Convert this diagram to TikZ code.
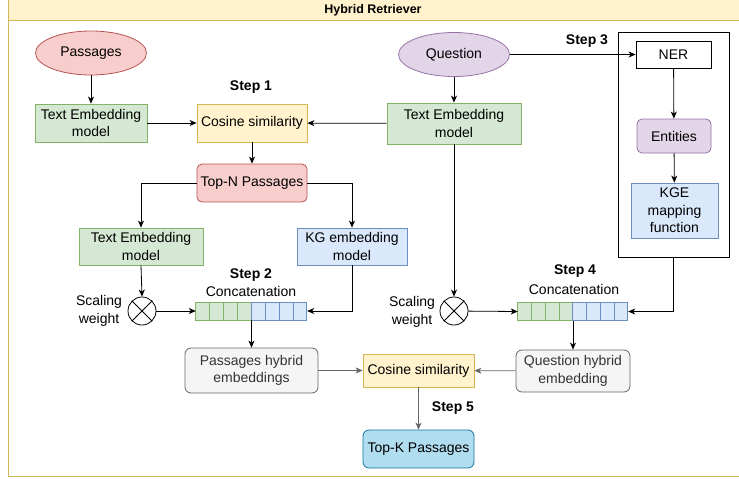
\documentclass[tikz,border=0pt]{standalone}
\usepackage{fontspec}
\setmainfont{Liberation Sans}
\usetikzlibrary{arrows.meta,shapes.geometric,calc}

\definecolor{yelfill}{HTML}{FFF2CC}
\definecolor{yelline}{HTML}{D6B656}
\definecolor{grnfill}{HTML}{D5E8D4}
\definecolor{grnline}{HTML}{82B366}
\definecolor{redfill}{HTML}{F8CECC}
\definecolor{redline}{HTML}{B85450}
\definecolor{blufill}{HTML}{DAE8FC}
\definecolor{bluline}{HTML}{6C8EBF}
\definecolor{purfill}{HTML}{E1D5E7}
\definecolor{purline}{HTML}{9673A6}
\definecolor{gryfill}{HTML}{F5F5F5}
\definecolor{gryline}{HTML}{666666}
\definecolor{grytext}{HTML}{333333}
\definecolor{cyafill}{HTML}{B1DDF0}
\definecolor{cyaline}{HTML}{10739E}

\newcommand{\txtsz}{\fontsize{14}{17.5}\selectfont}

\tikzset{
  box/.style={draw, inner sep=0pt, align=center, font=\txtsz, line width=0.8pt},
  greenbox/.style={box, fill=grnfill, draw=grnline},
  yellowbox/.style={box, fill=yelfill, draw=yelline},
  redbox/.style={box, fill=redfill, draw=redline, rounded corners=5pt},
  bluebox/.style={box, fill=blufill, draw=bluline},
  purplebox/.style={box, fill=purfill, draw=purline, rounded corners=5pt},
  graybox/.style={box, fill=gryfill, draw=gryline, text=grytext, rounded corners=6pt},
  cyanbox/.style={box, fill=cyafill, draw=cyaline, rounded corners=6pt},
  oval/.style={ellipse, draw, inner sep=0pt, font=\txtsz, line width=0.8pt},
  steplbl/.style={font=\txtsz\bfseries, inner sep=0pt},
  plainlbl/.style={font=\txtsz, inner sep=0pt, align=center},
  mult/.style={circle, draw, line width=0.8pt, minimum size=28pt, inner sep=0pt},
  conn/.style={draw=black, line width=0.8pt, -{Stealth[length=7pt,width=6pt,inset=2pt]}},
  gconn/.style={conn, draw=gryline},
  cellg/.style={draw=grnline, fill=grnfill, line width=0.8pt},
  cellb/.style={draw=bluline, fill=blufill, line width=0.8pt},
}

\begin{document}
\begin{tikzpicture}[x=1pt, y=-1pt]
\path[use as bounding box] (0,0) rectangle (739,479);

% container with title bar
\draw[draw=yelline, line width=1pt] (8,0) rectangle (745,476);
\draw[draw=yelline, fill=yelfill, line width=1pt] (8,-2) rectangle (745,20);
\node[font=\fontsize{12.5}{14}\selectfont\bfseries, inner sep=0pt] (title) at (373,10) {Hybrid Retriever};

% inputs
\node[oval, fill=redfill, draw=redline, minimum width=111pt, minimum height=44pt] (pas) at (91,53) {Passages};
\node[oval, fill=purfill, draw=purline, minimum width=111pt, minimum height=44pt] (que) at (454,54.5) {Question};

% step 1
\node[greenbox, minimum width=112pt, minimum height=38pt] (tem1) at (91,123) {Text Embedding\\model};
\node[yellowbox, minimum width=110pt, minimum height=38pt] (cos1) at (252,123) {Cosine similarity};
\node[greenbox, minimum width=134pt, minimum height=41pt] (tem3) at (454,123.5) {Text Embedding\\model};
\node[steplbl] (s1) at (251,87) {Step 1};
\node[redbox, minimum width=110pt, minimum height=38pt] (topn) at (252,183) {Top-N Passages};

% passage branch
\node[greenbox, minimum width=124pt, minimum height=37pt] (tem2) at (141,246.5) {Text Embedding\\model};
\node[bluebox, minimum width=110pt, minimum height=37pt] (kg) at (352,246.5) {KG embedding\\model};
\node[mult] (ot1) at (142,311) {};
\draw[line width=0.8pt] (ot1.north west) -- (ot1.south east) (ot1.north east) -- (ot1.south west);
\node[plainlbl] (sw1) at (99,311) {Scaling\\weight};
\node[steplbl] (s2) at (251,275) {Step 2};
\node[plainlbl] (cc1) at (251,291) {Concatenation};
\node[inner sep=0pt, minimum width=111pt, minimum height=18pt] (bar1) at (251.5,311) {};
\foreach \i in {0,...,3} \draw[cellg] ($(bar1.west)+(\i*13.875,-9)$) rectangle ++(13.875,18);
\foreach \i in {4,...,7} \draw[cellb] ($(bar1.west)+(\i*13.875,-9)$) rectangle ++(13.875,18);
\node[graybox, minimum width=133pt, minimum height=45pt] (phe) at (251.5,370.5) {Passages hybrid\\embeddings};

% question branch
\draw[line width=0.8pt] (618,32) rectangle (729,257);
\coordinate (frameb) at (673.5,257);
\node[steplbl] (s3) at (587,41) {Step 3};
\node[box, fill=white, minimum width=75pt, minimum height=27pt] (ner) at (673.5,54.5) {NER};
\node[purplebox, minimum width=74pt, minimum height=34pt] (ent) at (674,136) {Entities};
\node[bluebox, minimum width=87pt, minimum height=55pt] (kge) at (674.5,210.5) {KGE\\mapping\\function};
\node[mult] (ot2) at (454,311) {};
\draw[line width=0.8pt] (ot2.north west) -- (ot2.south east) (ot2.north east) -- (ot2.south west);
\node[plainlbl] (sw2) at (412,312) {Scaling\\weight};
\node[steplbl] (s4) at (575,271) {Step 4};
\node[plainlbl] (cc2) at (574,289) {Concatenation};
\node[inner sep=0pt, minimum width=110pt, minimum height=18pt] (bar2) at (573,311.5) {};
\foreach \i in {0,...,3} \draw[cellg] ($(bar2.west)+(\i*13.75,-9)$) rectangle ++(13.75,18);
\foreach \i in {4,...,7} \draw[cellb] ($(bar2.west)+(\i*13.75,-9)$) rectangle ++(13.75,18);
\node[graybox, minimum width=114pt, minimum height=42pt] (qhe) at (573,371) {Question hybrid\\embedding};

% final ranking
\node[yellowbox, minimum width=111pt, minimum height=33pt] (cos2) at (418.5,370.5) {Cosine similarity};
\node[steplbl] (s5) at (453,408) {Step 5};
\node[cyanbox, minimum width=111pt, minimum height=38pt] (topk) at (418.5,449) {Top-K Passages};

% connectors
\draw[conn] (pas) -- (tem1);
\draw[conn] (tem1) -- (cos1);
\draw[conn] (que) -- (tem3);
\draw[conn] (tem3) -- (cos1);
\draw[conn] (cos1) -- (topn);
\draw[conn] (topn.west) -| (tem2.north);
\draw[conn] (topn.east) -| (kg.north);
\draw[conn] (tem2.south) -- (ot1.north);
\draw[conn] (ot1) -- (bar1.west);
\draw[conn] (kg.south) |- (bar1.east);
\draw[conn] (bar1.south) -- (phe.north);
\draw[conn] (que) -- (ner);
\draw[conn] (ner) -- (ent);
\draw[conn] (ent) -- (kge);
\draw[conn] (tem3.south) -- (ot2.north);
\draw[conn] (ot2) -- (bar2.west);
\draw[conn] (frameb) |- (bar2.east);
\draw[conn] (bar2.south) -- (qhe.north);
\draw[gconn] (phe) -- (cos2);
\draw[gconn] (qhe) -- (cos2);
\draw[gconn] (cos2) -- (topk);
\end{tikzpicture}
\end{document}
